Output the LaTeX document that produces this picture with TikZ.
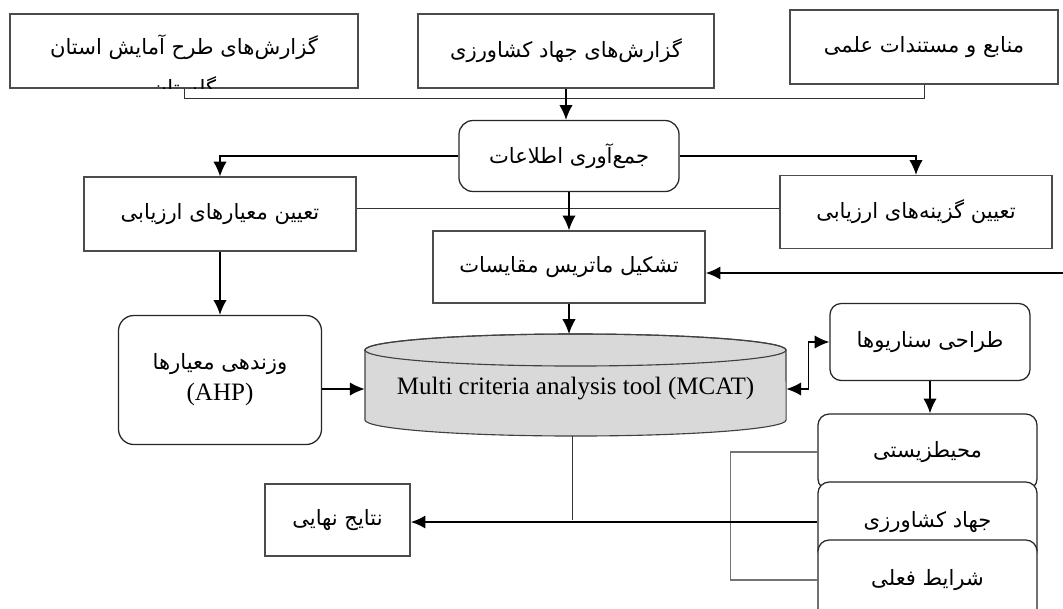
\documentclass[tikz,border=0pt]{standalone}
\usepackage{fontspec}
\setmainfont{Liberation Serif}
\newfontfamily\fa[Script=Arabic]{DejaVu Sans}
\TeXXeTstate=1
\usepackage{tikz}
\usetikzlibrary{arrows.meta}
\usetikzlibrary{positioning}
\tikzset{>={Latex[length=10.5pt,width=9.5pt]}}
\newcommand{\fatxt}[1]{{\fa\beginR #1\endR}}
\tikzstyle{box} = [rectangle, draw=black!70, line width=0.9pt, fill=white, inner sep=0pt]
\tikzstyle{rbox} = [box, draw=black!85, rounded corners=8pt]
\tikzstyle{fa} = [font=\fa\fontsize{15}{25}\selectfont, align=center]
\tikzstyle{arr} = [->, line width=1.1pt]
\tikzstyle{ln} = [-, line width=0.7pt, draw=black!80]

\begin{document}
\begin{tikzpicture}[x=0.025cm, y=-0.025cm]
\useasboundingbox (0,0) rectangle (1063,608);
\clip (0,0) rectangle (1063,608);

% sources
\node [box, minimum width=8.7cm, minimum height=1.85cm] (rep1) at (184,51) {};
\begin{scope}
\clip (rep1.south west) rectangle (rep1.north east);
\node [fa] (rep1t) at (184,67) {\fatxt{گزارش^^^^200cهای طرح آمایش استان}\\[4pt]\fatxt{گلستان}};
\end{scope}
\node [box, fa, minimum width=7.4cm, minimum height=1.85cm] (rep2) at (566,51) {\fatxt{گزارش^^^^200cهای جهاد کشاورزی}};
\node [box, fa, minimum width=6.7cm, minimum height=1.85cm] (src) at (924,47) {\fatxt{منابع و مستندات علمی}};

\node [rbox, rounded corners=10pt, fa, minimum width=5.5cm, minimum height=1.775cm] (gather) at (569,156) {\fatxt{جمع^^^^200cآوری اطلاعات}};
\node [box, fa, minimum width=6.8cm, minimum height=1.85cm] (crit) at (220,214) {\fatxt{تعیین معیارهای ارزیابی}};
\node [box, fa, minimum width=6.8cm, minimum height=1.825cm] (alt) at (916,212) {\fatxt{تعیین گزینه^^^^200cهای ارزیابی}};
\node [box, fa, minimum width=6.8cm, minimum height=1.8cm] (mat) at (569,267) {\fatxt{تشکیل ماتریس مقایسات}};
\coordinate (ext) at (1063,273);

\node [rbox, rounded corners=11pt, fa, minimum width=5.075cm, minimum height=3.225cm] (ahp) at (220,380) {\fatxt{وزندهی معیارها}\\[-3pt]{\rmfamily\fontsize{17.8}{20}\selectfont (AHP)}};

% MCAT cylinder
\filldraw [fill=black!15, draw=black!75, line width=0.8pt] (365,350) -- (365,420) arc [start angle=180, end angle=360, x radius=5.2625cm, y radius=0.4cm] -- (786,350) arc [start angle=0, end angle=180, x radius=5.2625cm, y radius=0.4cm] -- cycle;
\draw [draw=black!75, line width=0.8pt] (575.5,350) ellipse [x radius=5.2625cm, y radius=0.4cm];
\node [minimum width=10.525cm, minimum height=2.75cm, inner sep=0pt, font=\fontsize{17.8}{20}\selectfont] (mcat) at (575.5,389) {Multi criteria analysis tool (MCAT)};
\coordinate (mcatb) at (572,436);

\node [rbox, fa, minimum width=5cm, minimum height=1.925cm] (scen) at (930,342) {\fatxt{طراحی سناریوها}};
\node [rbox, fa, minimum width=5.475cm, minimum height=1.9cm] (env) at (927.5,452) {\fatxt{محیطزیستی}};
\node [rbox, fa, minimum width=5.475cm, minimum height=2cm] (agr) at (927.5,522) {\fatxt{جهاد کشاورزی}};
\node [rbox, fa, minimum width=5.475cm, minimum height=2cm] (cur) at (927.5,580) {\fatxt{شرایط فعلی}};
\node [box, fa, minimum width=3.625cm, minimum height=1.8cm] (res) at (337.5,520) {\fatxt{نتایج نهایی}};

% connectors
\draw [ln] (rep1.south) -- ++(0,10) -| (src.south);
\draw [arr] (rep2.south) -- (rep2.south |- gather.north);
\draw [arr, line width=0.9pt] (gather.west) -| (crit.north);
\draw [arr, line width=0.9pt] (gather.east) -| (alt.north);
\draw [ln] ([yshift=4pt]crit.east) -- ([yshift=4pt]crit.east -| alt.west);
\draw [arr] (gather.south) -- (mat.north);
\draw [arr, line width=1.5pt] (ext) -- (ext -| mat.east);
\draw [arr] (crit.south) -- (ahp.north);
\draw [arr] (mat.south) -- (mat.south |- 0,334);
\draw [arr] (ahp.east |- mcat.west) -- (mcat.west);
\draw [<->, line width=1.1pt] (mcat.east) -- ++(22,0) |- (scen.west);
\draw [arr] (scen.south) -- (scen.south |- env.north);
\draw [-, line width=0.8pt, draw=black!55] (env.west) -- ++(-87,0) |- (cur.west);
\draw [ln] (mcatb) -- (mcatb |- res.east);
\draw [arr, line width=1.5pt] (agr.west) -- (agr.west -| res.east);
\end{tikzpicture}
\end{document}
